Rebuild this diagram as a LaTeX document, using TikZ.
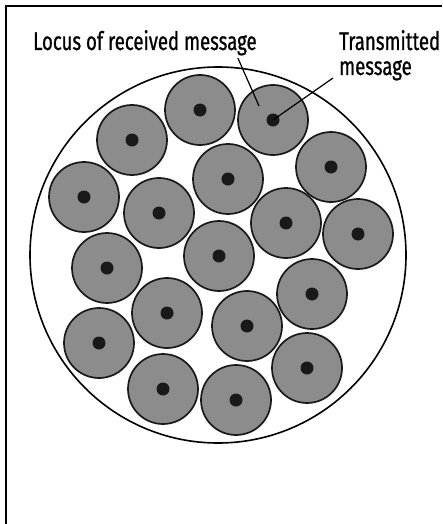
\documentclass[tikz,border=0pt]{standalone}
\usepackage{fontspec}
\setmainfont{Fira Sans}[FakeStretch=0.73, FakeBold=0.8]
\usetikzlibrary{calc}

\begin{document}
\begin{tikzpicture}[x=1pt, y=-1pt,
    frame/.style={line width=1.8pt},
    disc/.style={draw, circle, line width=1.6pt, minimum size=376pt, inner sep=0pt},
    locus/.style={draw=black!90, fill=black!45, circle, line width=1.7pt,
                  minimum size=70pt, inner sep=0pt},
    msg/.style={fill=black!90, circle, minimum size=13pt, inner sep=0pt},
    lbl/.style={inner sep=0pt, align=left, font=\fontsize{25.5}{25}\selectfont},
    lead/.style={line width=1.2pt}
]
\useasboundingbox (0,0) rectangle (442,524);
\draw[frame] (442,6) -- (6,6) -- (6,524);
\node[disc] (space) at (218,255) {};
\foreach \n/\x/\y in {1/132/140, 2/200/110, 3/273/120, 4/331/167, 5/228/179,
    6/84/197, 7/159/213, 8/286/223, 9/358/234, 10/107/268, 11/219/256,
    12/312/294, 13/167/313, 14/247/326, 15/99/343, 16/163/389,
    17/236/400, 18/307/368}{
  \node[locus] (c\n) at (\x,\y) {};
  \node[msg] (m\n) at (c\n) {};
}
\node[lbl, anchor=base west] (rcv) at (33,50) {Locus of received message};
\node[lbl, anchor=base west] (tx) at (339,75) {Transmitted\\message};
\coordinate (rcvend) at ($(c3.center)!0.55!(c3.north west)$);
\coordinate (rcvstart) at ($(rcv.base east)+(-19,8)$);
\coordinate (txstart) at ($(tx.base west)+(-6,3)$);
\draw[lead] (rcvstart) -- (rcvend);
\draw[lead] (txstart) -- (m3.center);
\end{tikzpicture}
\end{document}
